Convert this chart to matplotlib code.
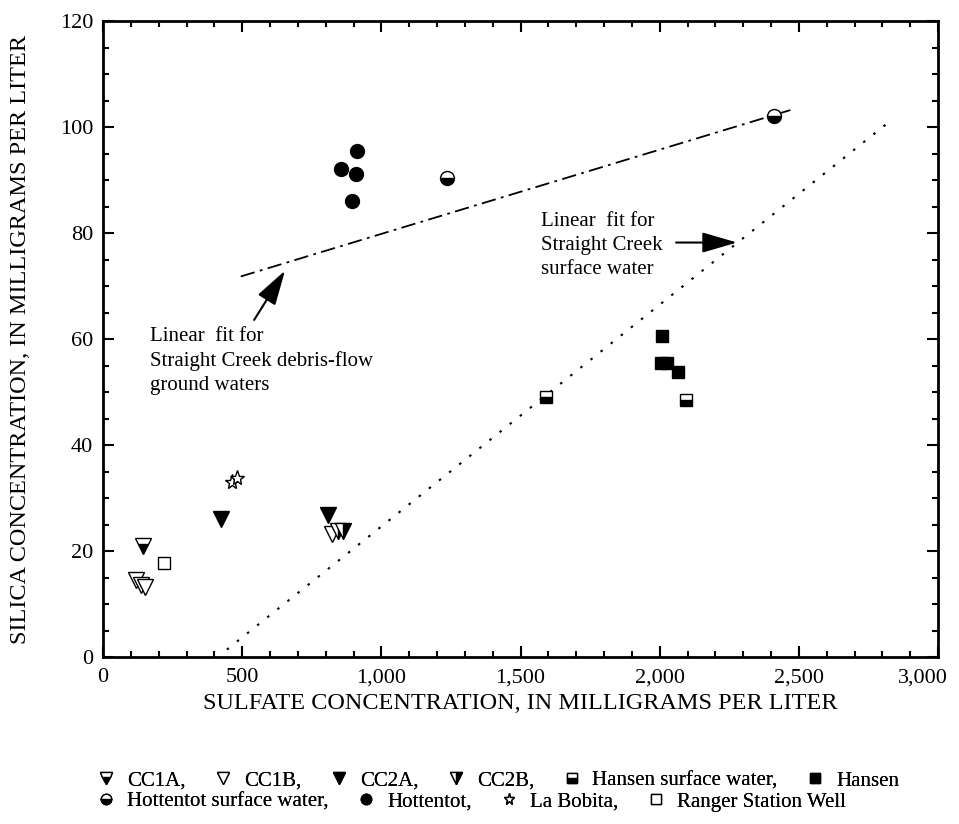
import matplotlib
matplotlib.use("Agg")
import matplotlib.pyplot as plt
from matplotlib.lines import Line2D
from matplotlib.ticker import MultipleLocator, StrMethodFormatter
from matplotlib.transforms import ScaledTranslation

plt.rcParams["font.family"] = ["Liberation Serif", "DejaVu Serif"]

# sulfate (x) and silica (y) concentrations, mg/L
cc1a_x = [145]
cc1a_y = [21.0]
cc1b_x = [118, 138, 150, 822]
cc1b_y = [14.5, 13.6, 13.3, 23.3]
cc2a_x = [423, 807]
cc2a_y = [26.1, 26.8]
cc2b_x = [846, 863]
cc2b_y = [23.8, 23.8]
hansen_sw_x = [1590, 2095]
hansen_sw_y = [49.0, 48.5]
hansen_x = [2008, 2005, 2025, 2067]
hansen_y = [60.5, 55.4, 55.4, 53.7]
hott_sw_x = [1235, 2410]
hott_sw_y = [90.4, 102.0]
hott_x = [911, 855, 909, 894]
hott_y = [95.4, 92.1, 91.2, 86.1]
bobita_x = [462, 482]
bobita_y = [33.0, 33.7]
ranger_x = [220]
ranger_y = [17.8]

# linear fit end points
gw_fit_x = [495, 2470]
gw_fit_y = [71.8, 103.2]
sw_fit_x = [445, 2830]
sw_fit_y = [1.4, 101.2]

fig = plt.figure(figsize=(9.59, 8.24), dpi=100)
ax = fig.add_axes([103 / 959, 1 - 657 / 824, 835 / 959, 636 / 824])

ax.plot(gw_fit_x, gw_fit_y, color="black", lw=1.3, ls=(0, (8, 3, 1.5, 3)))
ax.plot(sw_fit_x, sw_fit_y, color="black", lw=1.5, ls=(0, (1.2, 5)))

styles = [
    # (x, y, marker, size, fillstyle, label)
    (cc1b_x, cc1b_y, "v", 12, "none", "CC1B,"),
    (cc1a_x, cc1a_y, "v", 12, "bottom", "CC1A,"),
    (cc2a_x, cc2a_y, "v", 12, "full", "CC2A,"),
    (cc2b_x, cc2b_y, "v", 12, "right", "CC2B,"),
    (hansen_sw_x, hansen_sw_y, "s", 9, "bottom", "Hansen surface water,"),
    (hansen_x, hansen_y, "s", 9, "full", "Hansen"),
    (hott_sw_x, hott_sw_y, "o", 10, "bottom", "Hottentot surface water,"),
    (hott_x, hott_y, "o", 10, "full", "Hottentot,"),
    (bobita_x, bobita_y, "*", 11, "none", "La Bobita,"),
    (ranger_x, ranger_y, "s", 9, "none", "Ranger Station Well"),
]

handles = {}
for x, y, m, s, fs, lab in styles:
    kw = dict(marker=m, ls="none", mec="black", mew=1.0)
    if fs == "none":
        kw.update(mfc="white")
    elif fs == "full":
        kw.update(mfc="black")
    else:
        kw.update(mfc="black", mfcalt="white", fillstyle=fs)
    ax.plot(x, y, ms=s, **kw)
    handles[lab] = Line2D([], [], ms=s * 0.75, **kw)

ax.set_xlim(0, 3000)
ax.set_ylim(0, 120)
ax.xaxis.set_major_locator(MultipleLocator(500))
ax.xaxis.set_minor_locator(MultipleLocator(100))
ax.yaxis.set_major_locator(MultipleLocator(20))
ax.yaxis.set_minor_locator(MultipleLocator(5))
ax.xaxis.set_major_formatter(StrMethodFormatter("{x:,.0f}"))
ax.tick_params(which="both", direction="in", top=True, right=True, width=1.5, labelsize=16)
ax.tick_params(which="major", length=8, pad=8)
ax.tick_params(which="major", axis="y", pad=7)
ax.tick_params(which="minor", length=4)
for sp in ax.spines.values():
    sp.set_linewidth(2)

ax.set_xlabel("SULFATE CONCENTRATION, IN MILLIGRAMS PER LITER", fontsize=17.5, labelpad=4)
ax.set_ylabel("SILICA CONCENTRATION, IN MILLIGRAMS PER LITER", fontsize=17.5, labelpad=21)

ax.text(169, 55.8, "Linear  fit for\nStraight Creek debris-flow\nground waters",
        fontsize=15, va="center", ha="left", linespacing=1.36)
ax.annotate("", xy=(654, 72.9), xytext=(543, 63.6),
            arrowprops=dict(arrowstyle="-|>,head_length=1.2,head_width=0.35",
                            color="black", lw=1.5, mutation_scale=18, shrinkA=0, shrinkB=0))
ax.text(1574, 77.7, "Linear  fit for\nStraight Creek\nsurface water",
        fontsize=15, va="center", ha="left", linespacing=1.36)
ax.annotate("", xy=(2278, 78.2), xytext=(2059, 78.2),
            arrowprops=dict(arrowstyle="-|>,head_length=1.2,head_width=0.35",
                            color="black", lw=1.5, mutation_scale=18, shrinkA=0, shrinkB=0))

row1 = ["CC1A,", "CC1B,", "CC2A,", "CC2B,", "Hansen surface water,", "Hansen"]
row2 = ["Hottentot surface water,", "Hottentot,", "La Bobita,", "Ranger Station Well"]
for row, ytop in [(row1, 771), (row2, 792)]:
    leg = fig.legend([handles[l] for l in row], row, ncol=len(row), loc="upper left",
                     bbox_to_anchor=(98 / 959, 1 - ytop / 824), frameon=False,
                     fontsize=15, handlelength=0.8, handletextpad=0.6,
                     columnspacing=1.4, borderpad=0, borderaxespad=0)
    fig.add_artist(leg)

# keep the last x tick label inside the figure
fig.canvas.draw()
for tick in ax.xaxis.get_major_ticks():
    if tick.label1.get_text() == "3,000":
        lbl = tick.label1
        lbl.set_transform(lbl.get_transform() + ScaledTranslation(-11 / 72, 0, fig.dpi_scale_trans))

fig.savefig("out.png", dpi=100)
